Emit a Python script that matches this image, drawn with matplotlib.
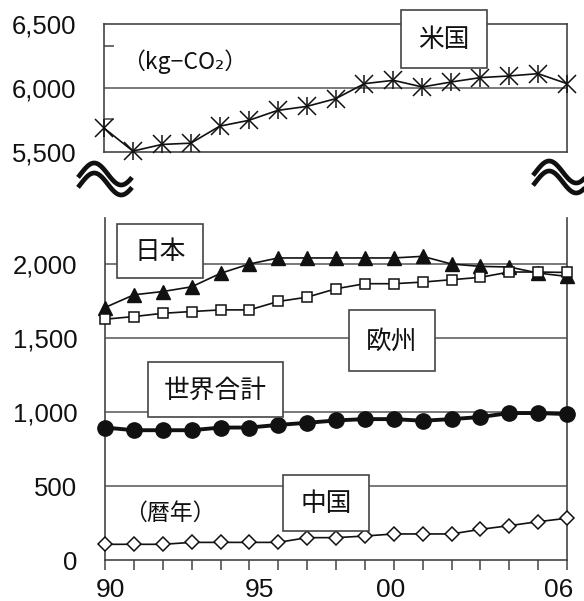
import matplotlib
matplotlib.use('Agg')
import matplotlib.pyplot as plt
from matplotlib.lines import Line2D
from matplotlib.patches import Rectangle
import numpy as np

# ---------------- data ----------------
years = list(range(1990, 2007))
usa = [5687, 5507, 5559, 5569, 5702, 5747, 5825, 5856, 5916, 6034, 6060, 6008, 6047, 6081, 6094, 6112, 6034]
japan = [1706, 1792, 1814, 1846, 1937, 2000, 2041, 2041, 2041, 2041, 2041, 2052, 2000, 1984, 1980, 1939, 1916]
europe = [1627, 1645, 1667, 1679, 1690, 1690, 1747, 1776, 1833, 1867, 1867, 1878, 1894, 1910, 1946, 1946, 1943]
world = [895, 877, 877, 877, 895, 895, 913, 927, 943, 952, 952, 941, 952, 966, 993, 993, 986]
china = [106, 106, 106, 119, 119, 119, 119, 151, 151, 162, 176, 176, 176, 207, 232, 259, 282]

top_yticks = [5500, 6000, 6500]
top_minor = [5760, 6330]
bot_yticks = [0, 500, 1000, 1500, 2000]
xtick_labels = ['90', '95', '00', '06']
xtick_years = [1990.2, 1995.35, 1999.9, 2005.7]

unit_label = '（kg−CO₂）'
year_label = '（暦年）'
box_labels = ['米国', '日本', '欧州', '世界合計', '中国']

# ---------------- layout ----------------
W, H = 584, 601
fig = plt.figure(figsize=(W / 100, H / 100), dpi=100)
fig.patch.set_facecolor('white')

def fx(px):
    return px / W

def fy(py):
    return 1 - py / H

num_font = ['Liberation Sans', 'DejaVu Sans']
cjk_font = ['Noto Sans CJK JP', 'DejaVu Sans']
frame_c = '#444444'
grid_c = '#555555'
ink = '#111111'

ax1 = fig.add_axes([fx(104), fy(152), (567 - 104) / W, (152 - 24) / H])
ax2 = fig.add_axes([fx(105), fy(560), (567 - 105) / W, (560 - 218) / H])

# ---- top panel ----
ax1.set_xlim(1990, 2006)
ax1.set_ylim(5500, 6500)
for s in ax1.spines.values():
    s.set_color(frame_c)
    s.set_linewidth(1.2)
ax1.axhline(6000, color=grid_c, lw=1.1, zorder=1)
ax1.set_xticks([])
ax1.set_yticks(top_yticks)
ax1.set_yticklabels([f'{v:,}' for v in top_yticks], fontsize=18.5, family=num_font, color=ink)
ax1.tick_params(axis='y', which='major', length=0, pad=20)
ax1.set_yticks(top_minor, minor=True)
ax1.tick_params(axis='y', which='minor', direction='in', length=7, width=1.1, color=frame_c)

ax1.plot(years, usa, color=ink, lw=1.2, marker='x', ms=12.5, mew=1.1, clip_on=False, zorder=3)
ax1.plot(years, usa, ls='none', color=ink, marker='|', ms=12.5, mew=1.1, clip_on=False, zorder=3)

# ---- bottom panel ----
ax2.set_xlim(1990, 2006)
ax2.set_ylim(0, 2311)
ax2.spines['top'].set_visible(False)
for k in ['left', 'right', 'bottom']:
    ax2.spines[k].set_color(frame_c)
    ax2.spines[k].set_linewidth(1.2)
for v in bot_yticks[1:]:
    ax2.axhline(v, color=grid_c, lw=1.1, zorder=1)
ax2.set_yticks(bot_yticks)
ax2.set_yticklabels([f'{v:,}' for v in bot_yticks], fontsize=18.5, family=num_font, color=ink)
ax2.tick_params(axis='y', length=0, pad=20)
ax2.set_xticks(xtick_years)
ax2.set_xticklabels(xtick_labels, fontsize=19, family=num_font, color=ink)
ax2.tick_params(axis='x', which='major', length=0, pad=13)
ax2.set_xticks(years, minor=True)
ax2.tick_params(axis='x', which='minor', direction='out', length=7, width=1.1, color=frame_c)

ax2.plot(years, japan, color=ink, lw=1.2, marker='^', ms=9.5, mfc=ink, mec=ink,
         clip_on=False, zorder=3)
ax2.plot(years, europe, color=ink, lw=1.2, marker='s', ms=7.5, mfc='white', mec=ink, mew=1.1,
         clip_on=False, zorder=3)
ax2.plot(years, world, color=ink, lw=2.8, marker='o', ms=11, mfc=ink, mec=ink,
         clip_on=False, zorder=3)
ax2.plot(years, china, color=ink, lw=1.2, marker='D', ms=7.5, mfc='white', mec=ink, mew=1.1,
         clip_on=False, zorder=3)

# ---- label boxes ----
box_rects = [(401, 10, 487, 68), (117, 224, 203, 278), (349, 310, 435, 371),
             (148, 362, 283, 417), (283, 475, 369, 531)]
for lab, (x0, y0, x1, y1) in zip(box_labels, box_rects):
    fig.add_artist(Rectangle((fx(x0), fy(y1)), (x1 - x0) / W, (y1 - y0) / H,
                             transform=fig.transFigure, fc='white', ec=frame_c, lw=1.2, zorder=5))
    fig.text(fx((x0 + x1) / 2), fy((y0 + y1) / 2 + 1), lab, ha='center', va='center',
             fontsize=18.5, family=cjk_font, color=ink, zorder=6)

fig.text(fx(122), fy(62), unit_label, ha='left', va='center', fontsize=16.5, family=cjk_font,
         color=ink, zorder=6)
fig.text(fx(124), fy(513), year_label, ha='left', va='center', fontsize=16.5, family=cjk_font,
         color=ink, zorder=6)

# ---- break marks ----
def wave(x0, yc, width, amp):
    t = np.linspace(0, 1, 60)
    xs = x0 + t * width
    ys = yc - amp * np.sin(2 * np.pi * (t - 0.05))
    return xs, ys

for (x0, yc) in [(78, 174), (533, 172)]:
    for off in (0, 10):
        xs, ys = wave(x0, yc + off, 54, 11)
        fig.add_artist(Line2D(fx(xs), fy(ys), transform=fig.transFigure, color=ink,
                              lw=3.4, solid_capstyle='butt', zorder=6))

fig.savefig('out.png', dpi=100, facecolor='white')
